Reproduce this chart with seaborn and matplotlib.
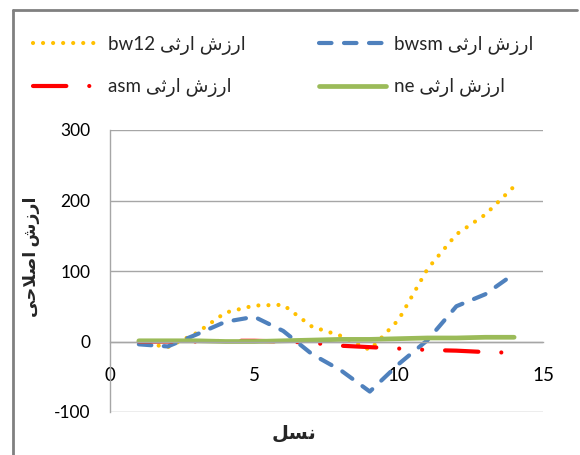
import numpy as np
import pandas as pd
import matplotlib
matplotlib.use("Agg")
import matplotlib.pyplot as plt
import seaborn as sns
from matplotlib.lines import Line2D

# generation (x) and breeding values
nasl = [1, 2, 3, 4, 5, 6, 7, 8, 9, 10, 11, 12, 13, 14]
bw12 = [-1, -8, 12, 41, 51, 52, 21, 8, -12, 31, 103, 152, 180, 220]
bwsm = [-4, -7, 10, 28, 35, 15, -18, -41, -71, -32, 2, 50, 67, 96]
asm = [0, 0, 0, 1, 1, 0, -2, -6, -8, -10, -12, -13, -15, -16]
ne = [1, 1, 1, 0, 0, 1, 2, 3, 3, 4, 5, 5, 6, 6]

# arabic text in presentation forms, visual (left to right) order
arzesh_ersi = "\uFEF0\uFE9B\uFEAD\uFE8D \uFEB5\uFEAF\uFEAD\uFE8D"
ylab = "\uFEF0\uFEA3\uFEFC\uFEBB\uFE8D \uFEB5\uFEAF\uFEAD\uFE8D"
xlab = "\uFEDE\uFEB4\uFEE7"

sns.set_style("white")
plt.rcParams['font.family'] = ['Lato', 'DejaVu Sans']
plt.rcParams['axes.unicode_minus'] = False

fig = plt.figure(figsize=(5.8, 4.55), dpi=100)
ax = fig.add_axes([110/580, 1-412/455, 433/580, 282/455])

sns.lineplot(x=nasl, y=bw12, ax=ax, color='#FFC000', lw=3.0,
             linestyle=(0, (0.01, 2.4)), dash_capstyle='round',
             label="bw12 " + arzesh_ersi)
sns.lineplot(x=nasl, y=bwsm, ax=ax, color='#4F81BD', lw=3.0,
             linestyle=(0, (3.0, 3.0)), dash_capstyle='round',
             label="bwsm " + arzesh_ersi)
sns.lineplot(x=nasl, y=asm, ax=ax, color='#FF0000', lw=3.0,
             linestyle=(0, (8, 5.5, 0.01, 5.5, 0.01, 5.5)), dash_capstyle='round',
             label="asm " + arzesh_ersi)
sns.lineplot(x=nasl, y=ne, ax=ax, color='#9BBB59', lw=3.4,
             label="ne " + arzesh_ersi)

ax.set_xlim(0, 15)
ax.set_ylim(-100, 300)
ax.set_xticks([0, 5, 10, 15])
ax.set_yticks([-100, 0, 100, 200, 300])

ax.spines['top'].set_visible(False)
ax.spines['right'].set_visible(False)
ax.spines['bottom'].set_position(('data', 0))
for s in ['left', 'bottom']:
    ax.spines[s].set_color('#A6A6A6')
    ax.spines[s].set_linewidth(1)
ax.yaxis.grid(True, color='#A6A6A6', lw=1)
ax.set_axisbelow(True)

ax.tick_params(axis='x', direction='out', length=4.5, width=1, color='#A6A6A6',
               pad=14, labelsize=13.5, labelcolor='black')
ax.tick_params(axis='y', direction='out', length=5, width=1, color='#A6A6A6',
               pad=9, labelsize=12.5, labelcolor='black')

ax.set_ylabel(ylab, fontsize=12.5, fontweight='bold')
ax.yaxis.set_label_coords(-0.162, 0.55)
ax.set_xlabel(xlab, fontsize=14, fontweight='bold')
ax.xaxis.set_label_coords(0.425, -0.045)

h, lab = ax.get_legend_handles_labels()
ax.get_legend().remove()
order = [0, 2, 1, 3]
fig.legend([h[i] for i in order], [lab[i] for i in order], ncol=2,
           loc='upper left', bbox_to_anchor=(33/580, 1-36/455), frameon=False,
           fontsize=13.5, handlelength=3.6, handletextpad=0.4, columnspacing=3.9,
           labelspacing=1.25, borderpad=0, borderaxespad=0)

# outer chart border (left and top edges, rest is cropped)
top = 1 - 10/455
left = 13/580
fig.add_artist(Line2D([left, left], [0, top], transform=fig.transFigure,
                      color='#808080', lw=2))
fig.add_artist(Line2D([left, 0.995], [top, top], transform=fig.transFigure,
                      color='#808080', lw=2))

fig.savefig('out.png', dpi=100)
